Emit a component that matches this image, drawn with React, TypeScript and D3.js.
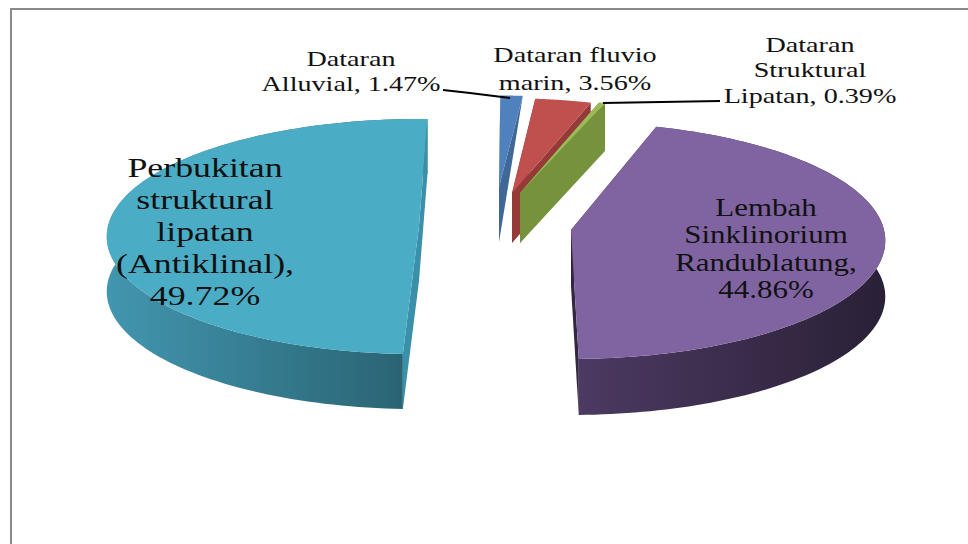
import React from "react";
import * as d3 from "d3";

const categories = ["Dataran Alluvial", "Dataran fluvio marin", "Dataran Struktural Lipatan", "Lembah Sinklinorium Randublatung", "Perbukitan struktural lipatan (Antiklinal)"];
const values = [1.47, 3.56, 0.39, 44.86, 49.72];
const topColors = ["#4f81bd", "#c0504d", "#9bbb59", "#8064a2", "#4bacc6"];
const cutColors = ["#3f6797", "#953a38", "#76923c", "#33263f", "#3a90a8"];
const wallLeft = ["#3f6797", "#953a38", "#76923c", "#4c3a62", "#4296af"];
const wallRight = ["#3f6797", "#953a38", "#76923c", "#2a2036", "#28606f"];

// layout of each exploded slice (apex, radius, angle tweak, rim extrusion)
const apexX = [499, 512, 520, 571, 419];
const apexY = [187, 193, 193, 230, 226];
const radii = [266, 275, 276, 313, 311];
const tweak = [0.3, 0, 0, -2.3, 1.7];
const rimDepth = [0, 50, 48, 56, 55];
const apexDepth = [55, 50, 50, 56, 55];

const labelLines = [
  ["Dataran", "Alluvial, 1.47%"],
  ["Dataran fluvio", "marin, 3.56%"],
  ["Dataran", "Struktural", "Lipatan, 0.39%"],
  ["Lembah", "Sinklinorium", "Randublatung,", "44.86%"],
  ["Perbukitan", "struktural", "lipatan", "(Antiklinal),", "49.72%"],
];
const labelX = [351, 575, 810, 766, 205];
const labelY = [66, 62, 52, 216, 177];
const labelSize = [22, 22, 22, 25, 28];
const labelStep = [25, 28, 25.5, 27.3, 32];
const labelScale = [1.28, 1.28, 1.28, 1.24, 1.28];

const squash = 0.375;
const persp = 0.09;

const pie = d3.pie<number>().sort(null).value((d) => d);
const arcs = pie(values);

function project(i: number, a: number, r = 1): [number, number] {
  const R = radii[i] * r;
  const u = Math.sin(a) * R;
  const v = -Math.cos(a) * R;
  const w = 1 - (persp * v) / radii[i];
  return [apexX[i] + u / w, apexY[i] + (v * squash) / w];
}

const line = d3.line<[number, number]>();

export default function App() {
  const wedges = arcs.map((arc, i) => {
    const off = (tweak[i] * Math.PI) / 180;
    const a0 = arc.startAngle + off;
    const a1 = arc.endAngle + off;
    const angles = d3.range(0, 121).map((k) => a0 + ((a1 - a0) * k) / 120);
    const rim = angles.map((a) => project(i, a));
    const apex = project(i, 0, 0);
    const top = line([apex, ...rim])! + "Z";
    const d = apexDepth[i];
    const rd = rimDepth[i];
    const wall =
      line([...rim, ...rim.map(([x, y]) => [x, y + rd] as [number, number]).reverse()])! + "Z";
    const cutRim = rim[rim.length - 1];
    const cut =
      line([apex, cutRim, [cutRim[0], cutRim[1] + rd], [apex[0], apex[1] + d]])! + "Z";
    const cut2 =
      line([apex, rim[0], [rim[0][0], rim[0][1] + rd], [apex[0], apex[1] + d]])! + "Z";
    return { top, wall, cut, cut2, i, x0: d3.min(rim, (p) => p[0])!, x1: d3.max(rim, (p) => p[0])! };
  });

  return (
    <svg
      width={968}
      height={544}
      style={{ position: "absolute", left: 0, top: 0, background: "#fff" }}
      fontFamily="'Liberation Serif', serif"
    >
      <defs>
        {wedges.map((w) => (
          <linearGradient
            key={w.i}
            id={`wall${w.i}`}
            gradientUnits="userSpaceOnUse"
            x1={w.x0}
            x2={w.x1}
            y1={0}
            y2={0}
          >
            <stop offset="0%" stopColor={wallLeft[w.i]} />
            <stop offset="100%" stopColor={wallRight[w.i]} />
          </linearGradient>
        ))}
      </defs>
      <path d="M11,544V9H968" fill="none" stroke="#8a8a8a" strokeWidth={2} />
      {[3, 4, 0, 1, 2].map((i) => {
        const w = wedges[i];
        return (
          <g key={i}>
            {i >= 3 && <path d={w.wall} fill={`url(#wall${i})`} />}
            <path d={w.cut} fill={cutColors[i]} />
            <path d={w.cut2} fill={cutColors[i]} />
            <path d={w.top} fill={topColors[i]} />
          </g>
        );
      })}
      <path d="M443,90 L470,93 L510,98" fill="none" stroke="#000" strokeWidth={2} />
      <path d="M603,103 L720,101" fill="none" stroke="#000" strokeWidth={2} />
      {labelLines.map((lines, i) => (
        <g key={i} transform={`translate(${labelX[i]},0) scale(${labelScale[i]},1)`} data-cat={categories[i]}>
          {lines.map((t, k) => (
            <text
              key={k}
              x={0}
              y={labelY[i] + k * labelStep[i]}
              textAnchor="middle"
              fontSize={labelSize[i]}
              fill="#111"
            >
              {t}
            </text>
          ))}
        </g>
      ))}
    </svg>
  );
}
